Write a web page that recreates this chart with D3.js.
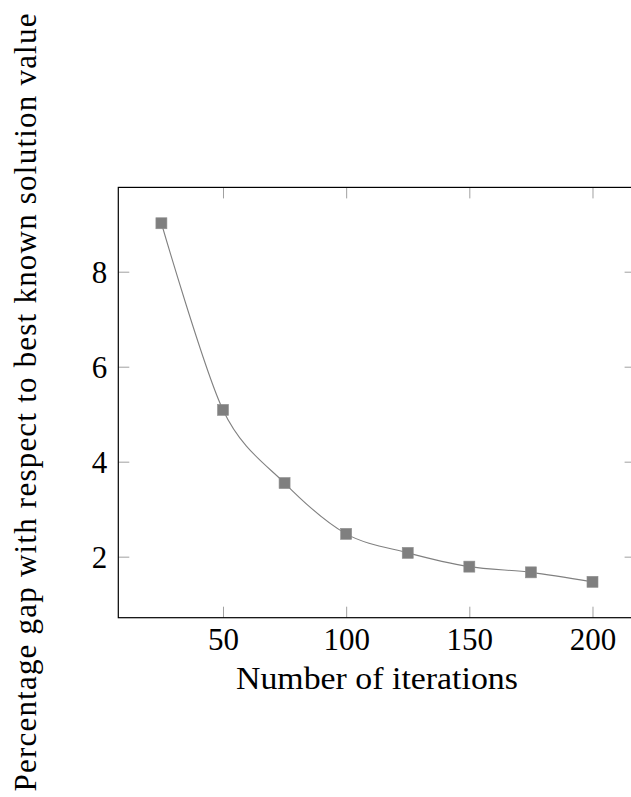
<!DOCTYPE html>
<meta charset="utf-8">
<head>
  <title>Gap vs iterations</title>
</head>

<style>
body {
  margin: 0;
  background: #fff;
}
svg {
  display: block;
}
svg text {
  font-family: "Liberation Serif", "DejaVu Serif", serif;
  font-size: 31px;
  fill: #000;
}
</style>

<body>
  <svg id="chart" width="631" height="797"></svg>

  <script src="https://cdnjs.cloudflare.com/ajax/libs/d3/7.8.5/d3.min.js"></script>

  <script>
      // data
      var iterations = [25, 50, 75, 100, 125, 150, 175, 200];
      var gap = [9.02, 5.09, 3.55, 2.48, 2.08, 1.79, 1.67, 1.47];
      var xTicks = [50, 100, 150, 200];
      var yTicks = [2, 4, 6, 8];

      var svg = d3.select('#chart');

      // plot box (pgfplots style, enlarged limits)
      var plotL = 118.3, plotR = 635.6, plotT = 187.4, plotB = 617.7;
      var tickLen = 11;

      var x = d3.scaleLinear().domain([7.5, 217.5]).range([plotL, plotR]);
      var y = d3.scaleLinear().domain([0.715, 9.775]).range([plotB, plotT]);

      var points = iterations.map(function(d, i) { return [d, gap[i]]; });

      // ticks on all four sides, pointing inward
      function styleTicks(g) {
        g.attr('font-family', null).attr('font-size', null);
        g.select('.domain').remove();
        g.selectAll('.tick line').attr('stroke', '#a0a0a0').attr('stroke-width', 1);
      }

      svg.append('g')
        .attr('transform', 'translate(0,' + plotB + ')')
        .call(d3.axisBottom(x).tickValues(xTicks).tickSizeInner(-tickLen).tickSizeOuter(0).tickPadding(10))
        .call(styleTicks)
        .call(function(g) {
          g.selectAll('.tick text').attr('y', 32).attr('dy', 0);
        });

      svg.append('g')
        .attr('transform', 'translate(' + plotL + ',0)')
        .call(d3.axisLeft(y).tickValues(yTicks).tickSizeInner(-tickLen).tickSizeOuter(0).tickPadding(11))
        .call(styleTicks)
        .call(function(g) {
          g.selectAll('.tick text').attr('dy', '0.34em');
        });

      svg.append('g')
        .attr('transform', 'translate(0,' + plotT + ')')
        .call(d3.axisTop(x).tickValues(xTicks).tickSizeInner(-tickLen).tickSizeOuter(0).tickFormat(''))
        .call(styleTicks);

      svg.append('g')
        .attr('transform', 'translate(' + plotR + ',0)')
        .call(d3.axisRight(y).tickValues(yTicks).tickSizeInner(-tickLen).tickSizeOuter(0).tickFormat(''))
        .call(styleTicks);

      // frame
      svg.append('rect')
        .attr('x', plotL).attr('y', plotT)
        .attr('width', plotR - plotL).attr('height', plotB - plotT)
        .attr('fill', 'none')
        .attr('stroke', '#000')
        .attr('stroke-width', 1.2);

      // smooth line
      var line = d3.line()
        .x(function(d) { return x(d[0]); })
        .y(function(d) { return y(d[1]); })
        .curve(d3.curveCardinal.tension(0.1));

      svg.append('path')
        .datum(points)
        .attr('fill', 'none')
        .attr('stroke', '#808080')
        .attr('stroke-width', 1.1)
        .attr('d', line);

      // square marks
      var ms = 11;
      svg.append('g').selectAll('rect')
        .data(points)
        .enter().append('rect')
        .attr('x', function(d) { return x(d[0]) - ms / 2; })
        .attr('y', function(d) { return y(d[1]) - ms / 2; })
        .attr('width', ms).attr('height', ms)
        .attr('fill', '#7f7f7f')
        .attr('stroke', '#8f8f8f')
        .attr('stroke-width', 0.6);

      // axis labels
      svg.append('text')
        .attr('x', (plotL + plotR) / 2)
        .attr('y', 689)
        .attr('text-anchor', 'middle')
        .attr('textLength', 282)
        .attr('lengthAdjust', 'spacingAndGlyphs')
        .text('Number of iterations');

      svg.append('text')
        .attr('transform', 'translate(36,' + ((plotT + plotB) / 2) + ') rotate(-90)')
        .attr('text-anchor', 'middle')
        .attr('textLength', 778)
        .attr('lengthAdjust', 'spacing')
        .text('Percentage gap with respect to best known solution value');
  </script>
</body>
</html>
